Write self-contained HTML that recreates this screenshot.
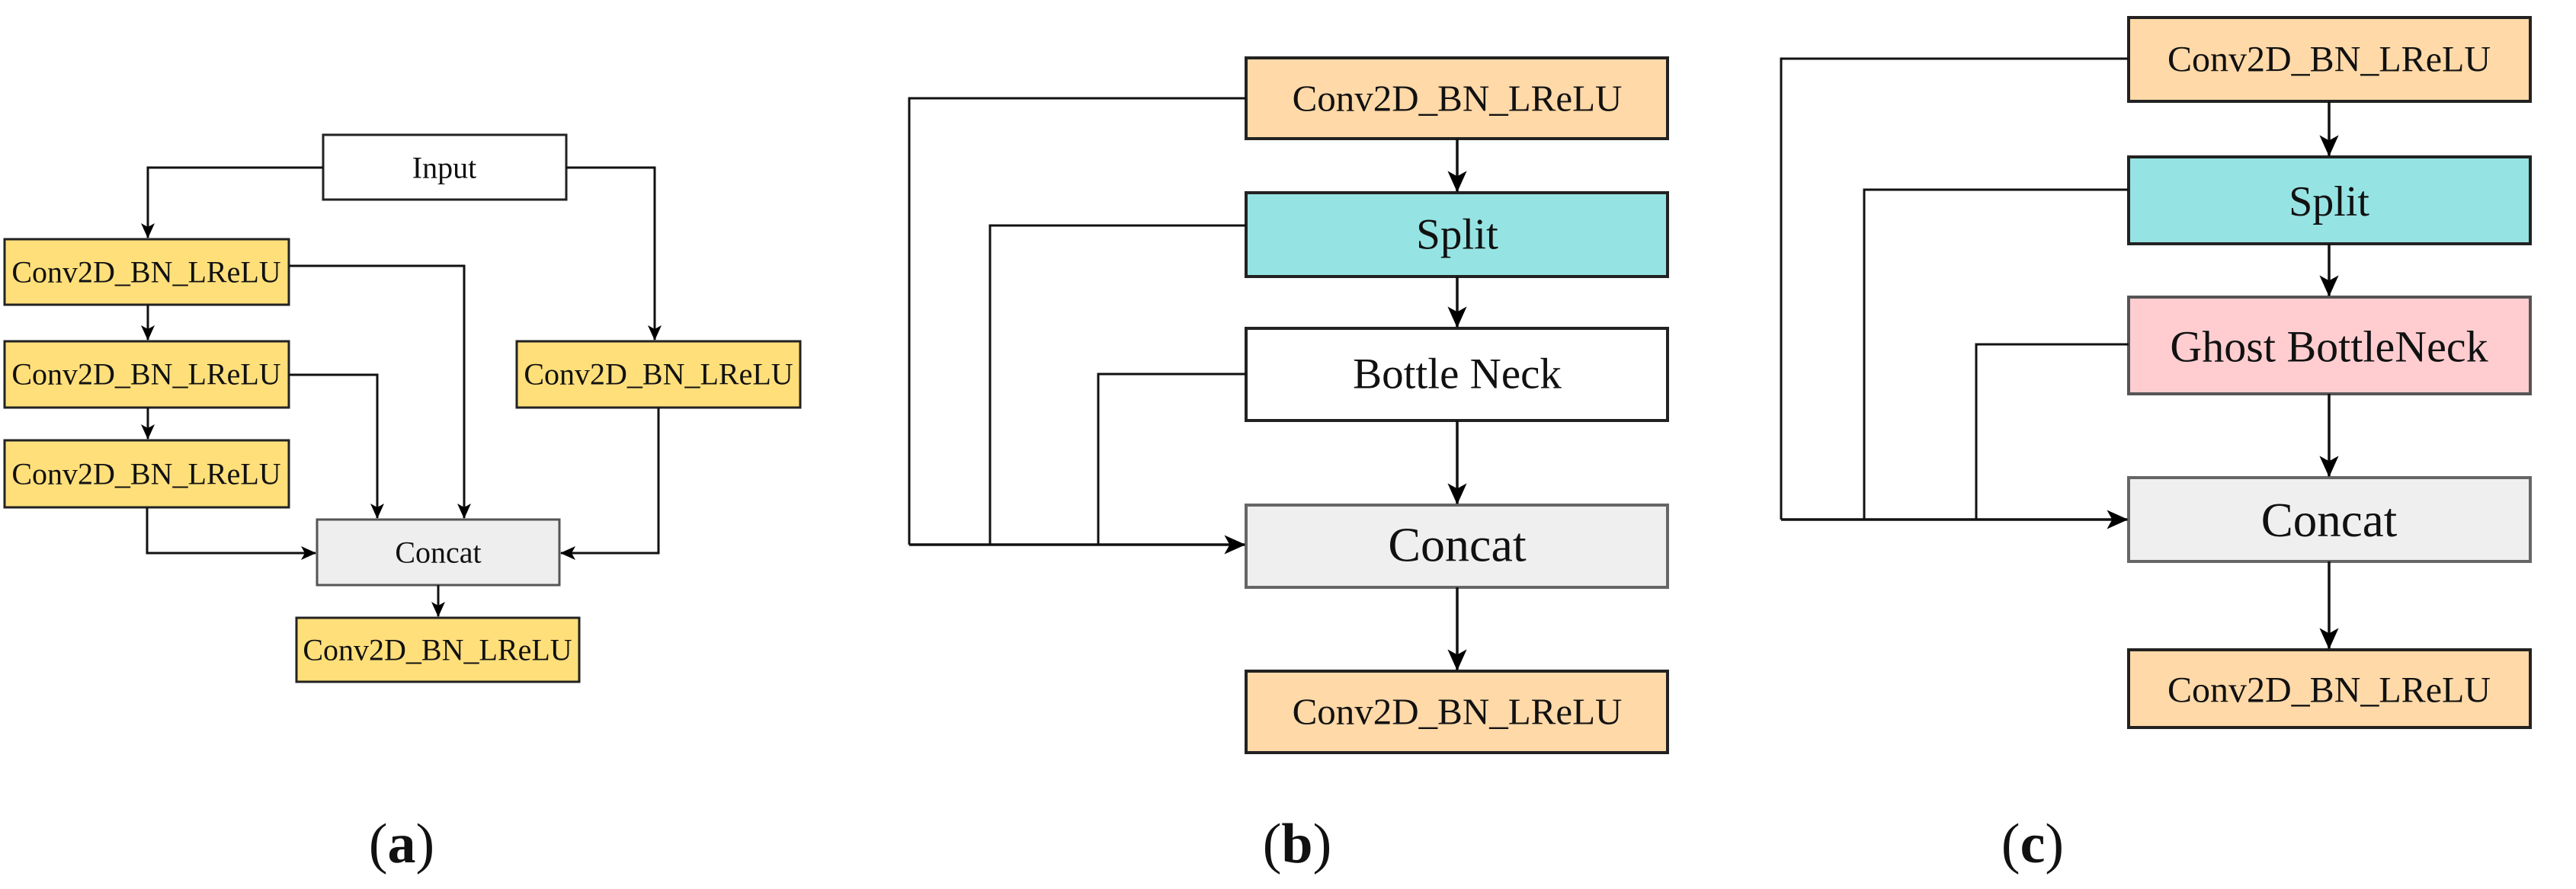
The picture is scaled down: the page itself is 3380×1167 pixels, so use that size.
<!DOCTYPE html>
<html><head><meta charset="utf-8"><style>
html,body{margin:0;padding:0;background:#fff;}
svg{display:block;}
text{font-family:"Liberation Serif",serif;fill:#111;text-anchor:middle;dominant-baseline:central;}
</style></head><body>
<svg width="3380" height="1167" viewBox="0 0 3380 1167" xmlns="http://www.w3.org/2000/svg">
<defs>
<marker id="ah" viewBox="0 0 20 20" refX="19" refY="10" markerWidth="20" markerHeight="20" markerUnits="userSpaceOnUse" orient="auto">
<path d="M0,1 L20,10 L0,19 L5,10 Z" fill="#000"/>
</marker>
<marker id="ahb" viewBox="0 0 20 20" refX="19" refY="10" markerWidth="28" markerHeight="28" markerUnits="userSpaceOnUse" orient="auto">
<path d="M0,1 L20,10 L0,19 L5,10 Z" fill="#000"/>
</marker>
</defs>
<rect width="3380" height="1167" fill="#fff"/>

<!-- Panel (a) -->
<g stroke="#222" stroke-width="3">
<rect x="424" y="177" width="319" height="85" fill="#fff"/>
<rect x="6" y="314" width="373" height="86" fill="#FFDF7A"/>
<rect x="6" y="448" width="373" height="87" fill="#FFDF7A"/>
<rect x="6" y="578" width="373" height="88" fill="#FFDF7A"/>
<rect x="678" y="448" width="372" height="87" fill="#FFDF7A"/>
<rect x="416" y="682" width="318" height="86" fill="#EEEEEE" stroke="#555"/>
<rect x="389" y="811" width="371" height="84" fill="#FFDF7A"/>
</g>
<g fill="none" stroke="#111" stroke-width="3" marker-end="url(#ah)">
<polyline points="424,220 194,220 194,312"/>
<polyline points="743,220 859,220 859,446"/>
<polyline points="194,400 194,446"/>
<polyline points="194,535 194,576"/>
<polyline points="379,349 609,349 609,680"/>
<polyline points="379,492 495,492 495,680"/>
<polyline points="193,666 193,726 414,726"/>
<polyline points="864,535 864,726 736,726"/>
<polyline points="575,768 575,809"/>
</g>
<g font-size="40">
<text x="583" y="220">Input</text>
<text x="192" y="357">Conv2D_BN_LReLU</text>
<text x="192" y="491">Conv2D_BN_LReLU</text>
<text x="192" y="622">Conv2D_BN_LReLU</text>
<text x="864" y="491">Conv2D_BN_LReLU</text>
<text x="575" y="725">Concat</text>
<text x="574" y="853">Conv2D_BN_LReLU</text>
</g>

<!-- Panel (b) -->
<g stroke="#222" stroke-width="4">
<rect x="1635" y="76" width="553" height="106" fill="#FFD9A8"/>
<rect x="1635" y="253" width="553" height="110" fill="#96E3E3"/>
<rect x="1635" y="431" width="553" height="121" fill="#fff"/>
<rect x="1635" y="663" width="553" height="108" fill="#EFEFEF" stroke="#666"/>
<rect x="1635" y="881" width="553" height="107" fill="#FFD9A8"/>
</g>
<g fill="none" stroke="#111" stroke-width="3">
<polyline points="1635,129 1193,129 1193,715"/>
<polyline points="1635,296 1299,296 1299,715"/>
<polyline points="1635,491 1441,491 1441,715"/>
</g>
<g fill="none" stroke="#111" stroke-width="3.5" marker-end="url(#ahb)">
<polyline points="1193,715 1633,715"/>
<polyline points="1912,182 1912,251"/>
<polyline points="1912,363 1912,429"/>
<polyline points="1912,552 1912,661"/>
<polyline points="1912,771 1912,879"/>
</g>
<g>
<text x="1912" y="129" font-size="49">Conv2D_BN_LReLU</text>
<text x="1912" y="308" font-size="57">Split</text>
<text x="1912" y="491" font-size="57">Bottle Neck</text>
<text x="1912" y="715" font-size="64">Concat</text>
<text x="1912" y="934" font-size="49">Conv2D_BN_LReLU</text>
</g>

<!-- Panel (c) -->
<g stroke="#222" stroke-width="4">
<rect x="2793" y="23" width="527" height="110" fill="#FFD9A8"/>
<rect x="2793" y="206" width="527" height="114" fill="#96E3E3"/>
<rect x="2793" y="390" width="527" height="127" fill="#FFCDD0" stroke="#555"/>
<rect x="2793" y="627" width="527" height="110" fill="#EFEFEF" stroke="#666"/>
<rect x="2793" y="853" width="527" height="102" fill="#FFD9A8"/>
</g>
<g fill="none" stroke="#111" stroke-width="3">
<polyline points="2793,77 2337,77 2337,682"/>
<polyline points="2793,249 2446,249 2446,682"/>
<polyline points="2793,452 2593,452 2593,682"/>
</g>
<g fill="none" stroke="#111" stroke-width="3.5" marker-end="url(#ahb)">
<polyline points="2337,682 2791,682"/>
<polyline points="3056,133 3056,204"/>
<polyline points="3056,320 3056,388"/>
<polyline points="3056,517 3056,625"/>
<polyline points="3056,737 3056,851"/>
</g>
<g>
<text x="3056" y="78" font-size="48">Conv2D_BN_LReLU</text>
<text x="3056" y="265" font-size="56">Split</text>
<text x="3056" y="455" font-size="58">Ghost BottleNeck</text>
<text x="3056" y="683" font-size="63">Concat</text>
<text x="3056" y="906" font-size="48">Conv2D_BN_LReLU</text>
</g>

<!-- Labels -->
<g font-size="74">
<text x="527" y="1132" style="dominant-baseline:alphabetic">(<tspan font-weight="bold">a</tspan>)</text>
<text x="1702" y="1132" style="dominant-baseline:alphabetic">(<tspan font-weight="bold">b</tspan>)</text>
<text x="2667" y="1132" style="dominant-baseline:alphabetic">(<tspan font-weight="bold">c</tspan>)</text>
</g>
</svg>
</body></html>
